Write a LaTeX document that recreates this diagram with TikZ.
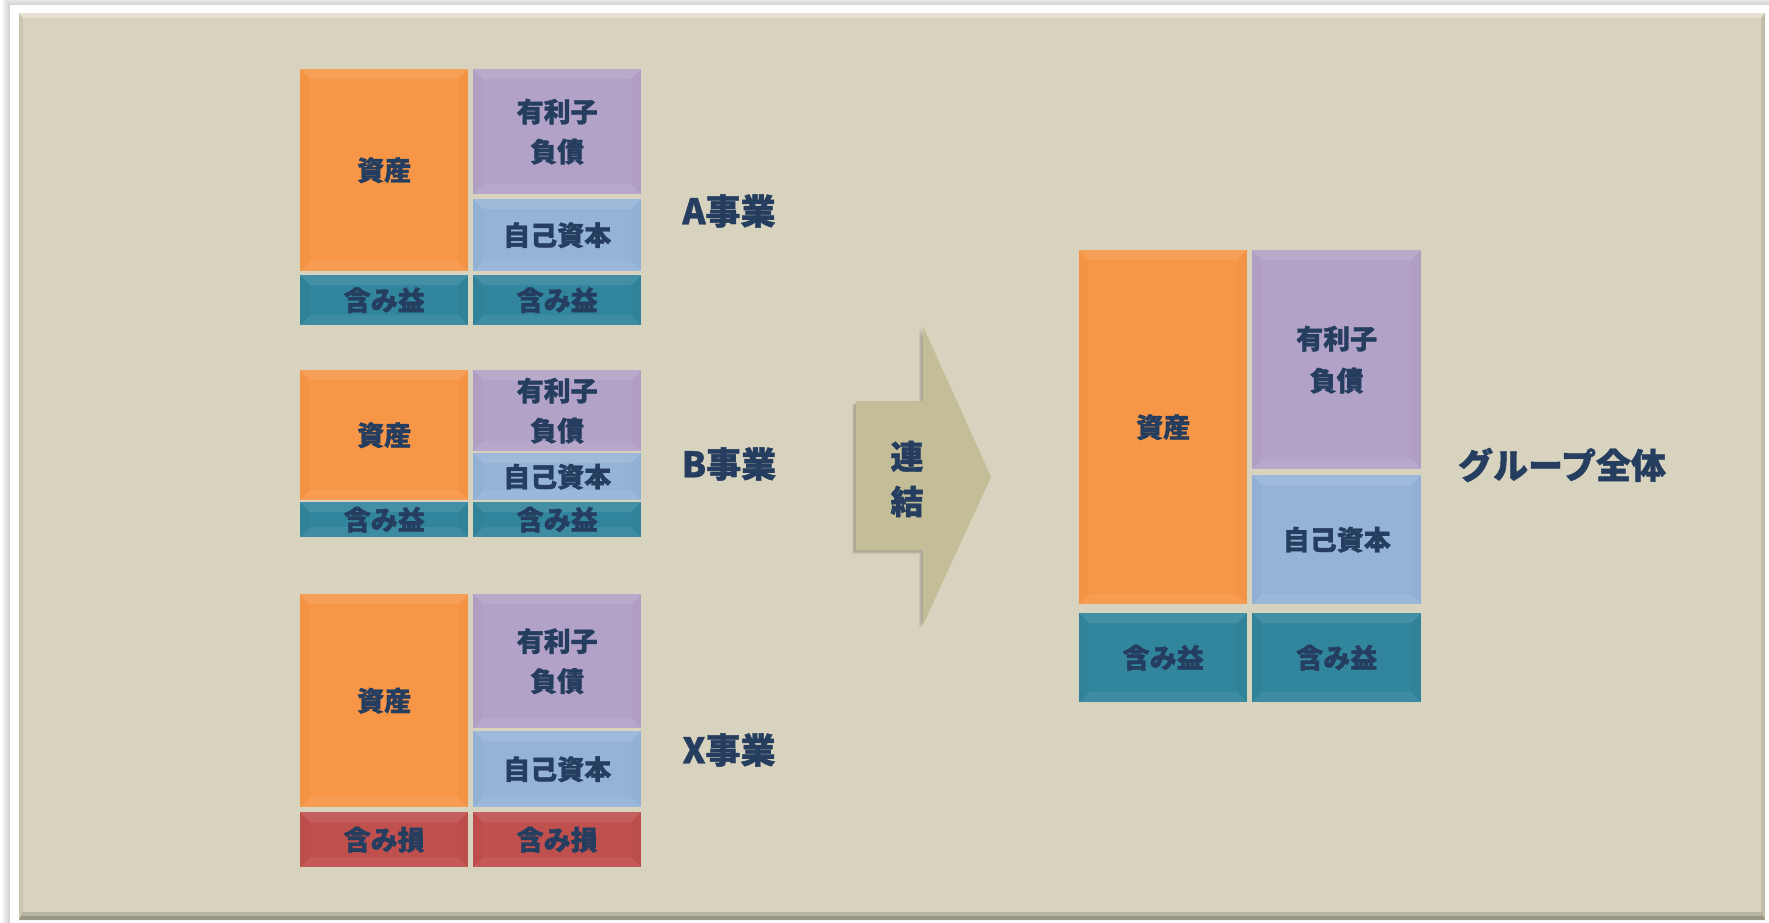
\documentclass[tikz,border=0pt]{standalone}
\usepackage{fontspec}
\newfontfamily\jp{Noto Sans CJK JP}[BoldFeatures={FakeBold=1.2}]
\definecolor{panelbg}{RGB}{216,211,190}
\definecolor{txt}{RGB}{37,62,96}
\definecolor{corange}{RGB}{247,150,70}
\definecolor{cpurple}{RGB}{179,162,199}
\definecolor{cblue}{RGB}{149,179,215}
\definecolor{cteal}{RGB}{49,133,156}
\definecolor{cred}{RGB}{192,80,77}
\definecolor{carrow}{RGB}{196,190,152}
\begin{document}
\begin{tikzpicture}[x=1pt,y=-1pt,
  bevel/.style={path picture={
    \fill[white,opacity=0.09] (path picture bounding box.north west) -- (path picture bounding box.north east)
      -- ([xshift=-10pt,yshift=-10pt]path picture bounding box.north east) -- ([xshift=10pt,yshift=-10pt]path picture bounding box.north west) -- cycle;
    \fill[white,opacity=0.06] (path picture bounding box.south west) -- (path picture bounding box.south east)
      -- ([xshift=-10pt,yshift=10pt]path picture bounding box.south east) -- ([xshift=10pt,yshift=10pt]path picture bounding box.south west) -- cycle;
    \fill[black,opacity=0.015] (path picture bounding box.north west) -- ([xshift=10pt,yshift=-10pt]path picture bounding box.north west)
      -- ([xshift=10pt,yshift=10pt]path picture bounding box.south west) -- (path picture bounding box.south west) -- cycle;
    \fill[black,opacity=0.015] (path picture bounding box.north east) -- ([xshift=-10pt,yshift=-10pt]path picture bounding box.north east)
      -- ([xshift=-10pt,yshift=10pt]path picture bounding box.south east) -- (path picture bounding box.south east) -- cycle;
  }},
  box/.style={inner sep=0pt, anchor=north west, text=txt, align=center, bevel,
    font=\jp\bfseries\fontsize{27}{40}\selectfont},
  grouplabel/.style={text=txt, inner sep=0pt, font=\jp\bfseries\fontsize{35}{42}\selectfont},
]
\useasboundingbox (0,0) rectangle (1769,923);
% outer white frame with soft shadow
\foreach \i in {1,...,8}{
  \fill[black,opacity=0.025] (10-\i,5-\i) rectangle (1790,950);
}
\fill[white] (10,5) rectangle (1790,950);
% panel
\fill[panelbg] (19,13) rectangle (1765,920);
\fill[white,opacity=0.35] (19,13) -- (1765,13) -- (1761,18) -- (23,18) -- cycle;
\fill[black,opacity=0.06] (19,13) -- (23,18) -- (23,914) -- (19,920) -- cycle;
\fill[black,opacity=0.10] (1765,13) -- (1761,18) -- (1761,914) -- (1765,920) -- cycle;
\fill[black,opacity=0.14] (19,920) -- (1765,920) -- (1761,912) -- (23,912) -- cycle;
\fill[black,opacity=0.16] (19,920) -- (1765,920) -- (1763,916) -- (21,916) -- cycle;

% A business
\node[box, fill=corange, minimum width=168pt, minimum height=202pt] (aasset) at (300,69) {資産};
\node[box, fill=cpurple, minimum width=168pt, minimum height=125pt] (adebt) at (473,69) {有利子\\負債};
\node[box, fill=cblue, minimum width=168pt, minimum height=72pt] (aeq) at (473,199) {自己資本};
\node[box, fill=cteal, minimum width=168pt, minimum height=50pt] (againl) at (300,275) {含み益};
\node[box, fill=cteal, minimum width=168pt, minimum height=50pt] (againr) at (473,275) {含み益};
\node[grouplabel] (alabel) at (729,211) {A事業};

% B business
\node[box, fill=corange, minimum width=168pt, minimum height=130pt] (basset) at (300,370) {資産};
\node[box, fill=cpurple, minimum width=168pt, minimum height=81pt] (bdebt) at (473,370) {有利子\\負債};
\node[box, fill=cblue, minimum width=168pt, minimum height=47pt] (beq) at (473,453) {自己資本};
\node[box, fill=cteal, minimum width=168pt, minimum height=35pt] (bgainl) at (300,502) {含み益};
\node[box, fill=cteal, minimum width=168pt, minimum height=35pt] (bgainr) at (473,502) {含み益};
\node[grouplabel] (blabel) at (729,464) {B事業};

% X business
\node[box, fill=corange, minimum width=168pt, minimum height=213pt] (xasset) at (300,594) {資産};
\node[box, fill=cpurple, minimum width=168pt, minimum height=134pt] (xdebt) at (473,594) {有利子\\負債};
\node[box, fill=cblue, minimum width=168pt, minimum height=76pt] (xeq) at (473,731) {自己資本};
\node[box, fill=cred, minimum width=168pt, minimum height=55pt] (xlossl) at (300,812) {含み損};
\node[box, fill=cred, minimum width=168pt, minimum height=55pt] (xlossr) at (473,812) {含み損};
\node[grouplabel] (xlabel) at (729,750) {X事業};

% arrow
\foreach \s/\o in {4/0.06,3/0.07,2/0.08}{
  \fill[black,opacity=\o] (856-\s,401+\s) -- (923-\s,401+\s) -- (923-\s,326+\s) -- (991-\s,477+\s) -- (923-\s,625+\s) -- (923-\s,550+\s) -- (856-\s,550+\s) -- cycle;
}
\fill[carrow] (856,401) -- (923,401) -- (923,326) -- (991,477) -- (923,625) -- (923,550) -- (856,550) -- cycle;
\node[text=txt, align=center, inner sep=0pt, font=\jp\bfseries\fontsize{33}{45}\selectfont] (renketsu) at (907,479) {連\\結};

% group total
\node[box, fill=corange, minimum width=168pt, minimum height=354pt] (gasset) at (1079,250) {資産};
\node[box, fill=cpurple, minimum width=169pt, minimum height=219pt, font=\jp\bfseries\fontsize{27}{42}\selectfont] (gdebt) at (1252,250) {有利子\\負債};
\node[box, fill=cblue, minimum width=169pt, minimum height=129pt] (geq) at (1252,475) {自己資本};
\node[box, fill=cteal, minimum width=168pt, minimum height=89pt] (ggainl) at (1079,613) {含み益};
\node[box, fill=cteal, minimum width=169pt, minimum height=89pt] (ggainr) at (1252,613) {含み益};
\node[grouplabel] (glabel) at (1562,465) {グループ全体};
\end{tikzpicture}
\end{document}
